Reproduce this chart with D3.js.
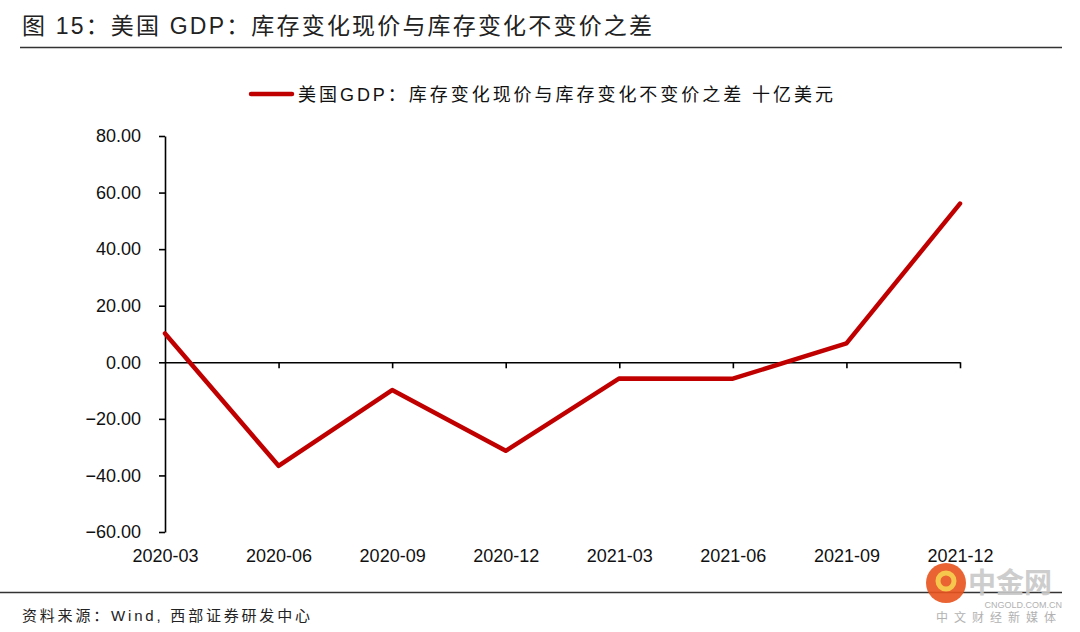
<!DOCTYPE html>
<html>
<head>
<meta charset="utf-8">
<script src="https://cdn.jsdelivr.net/npm/d3@7"></script>
<style>
  body { margin: 0; background: #fff; }
  svg text { font-family: "Liberation Sans", Arial, "Noto Sans CJK SC", sans-serif; }
</style>
</head>
<body>
<svg id="chart" width="1080" height="632"></svg>
<script>
const categories = ["2020-03", "2020-06", "2020-09", "2020-12", "2021-03", "2021-06", "2021-09", "2021-12"];
const values = [10.2, -36.6, -9.8, -31.3, -5.7, -5.8, 6.7, 56.1];
const yTicks = [-60, -40, -20, 0, 20, 40, 60, 80];
const titleText = "图 15：美国 GDP：库存变化现价与库存变化不变价之差";
const legendText = "美国GDP：库存变化现价与库存变化不变价之差 十亿美元";
const sourceText = "资料来源：Wind, 西部证券研发中心";

const cjk = "\"Liberation Sans\", \"Noto Sans CJK SC\", sans-serif";
const lineColor = "#C00000";

const svg = d3.select("#chart");

// title and rule
svg.append("text")
  .attr("x", 22).attr("y", 34)
  .attr("font-size", 23).attr("fill", "#222")
  .attr("textLength", 630).attr("lengthAdjust", "spacing")
  .style("font-family", cjk)
  .text(titleText);
svg.append("line")
  .attr("x1", 20).attr("x2", 1062).attr("y1", 47.5).attr("y2", 47.5)
  .attr("stroke", "#333").attr("stroke-width", 1.5);

// legend
svg.append("line")
  .attr("x1", 251).attr("x2", 292).attr("y1", 94).attr("y2", 94)
  .attr("stroke", lineColor).attr("stroke-width", 4.5).attr("stroke-linecap", "round");
svg.append("text")
  .attr("x", 298).attr("y", 101)
  .attr("font-size", 18).attr("fill", "#111")
  .attr("textLength", 535).attr("lengthAdjust", "spacing")
  .style("font-family", cjk)
  .text(legendText);

const x = d3.scalePoint().domain(categories).range([165, 960]);
const y = d3.scaleLinear().domain([-60, 80]).range([532, 136]);

// y axis
const yAxis = d3.axisLeft(y).tickValues(yTicks).tickSizeInner(6).tickSizeOuter(0)
  .tickFormat(d3.format(".2f"));
const gy = svg.append("g").attr("transform", "translate(165,0)").call(yAxis);
gy.select(".domain").attr("stroke", "#000").attr("stroke-width", 1.6);
gy.selectAll(".tick line").attr("stroke", "#000").attr("stroke-width", 1.6);
gy.selectAll(".tick text")
  .attr("x", -24).attr("font-size", 18).attr("fill", "#111");

// x axis at zero
const xAxis = d3.axisBottom(x).tickSizeInner(6).tickSizeOuter(0);
const gx = svg.append("g").attr("transform", `translate(0,${y(0)})`).call(xAxis);
gx.select(".domain").attr("stroke", "#000").attr("stroke-width", 1.6);
gx.selectAll(".tick line").attr("stroke", "#000").attr("stroke-width", 1.6)
  .filter(d => d === categories[0]).remove();
gx.selectAll(".tick text")
  .attr("y", 562 - y(0)).attr("dy", 0)
  .attr("font-size", 18).attr("fill", "#111");

// series line
const line = d3.line()
  .x((d, i) => x(categories[i]))
  .y(d => y(d));
svg.append("path")
  .datum(values)
  .attr("fill", "none")
  .attr("stroke", lineColor)
  .attr("stroke-width", 4.5)
  .attr("stroke-linejoin", "round")
  .attr("stroke-linecap", "round")
  .attr("d", line);

// bottom rule and source
svg.append("line")
  .attr("x1", 0).attr("x2", 1062).attr("y1", 592.5).attr("y2", 592.5)
  .attr("stroke", "#333").attr("stroke-width", 1.5);
svg.append("text")
  .attr("x", 22).attr("y", 621)
  .attr("font-size", 15).attr("fill", "#222")
  .attr("textLength", 288).attr("lengthAdjust", "spacing")
  .style("font-family", cjk)
  .text(sourceText);

// watermark
const wm = svg.append("g").attr("opacity", 0.9);
wm.append("circle").attr("cx", 946).attr("cy", 583).attr("r", 20).attr("fill", "#e8541e");
wm.append("circle").attr("cx", 946).attr("cy", 581).attr("r", 8).attr("fill", "none")
  .attr("stroke", "#f6c23a").attr("stroke-width", 5);
wm.append("text").attr("x", 968).attr("y", 593)
  .attr("font-size", 28).attr("font-weight", "bold").attr("fill", "#c8c8c8")
  .style("font-family", cjk).text("中金网");
wm.append("text").attr("x", 1062).attr("y", 608).attr("text-anchor", "end")
  .attr("font-size", 9).attr("fill", "#aaa").text("CNGOLD.COM.CN");
wm.append("text").attr("x", 1062).attr("y", 622).attr("text-anchor", "end")
  .attr("font-size", 12).attr("letter-spacing", 6).attr("fill", "#aaa")
  .style("font-family", cjk).text("中文财经新媒体");
</script>
</body>
</html>
